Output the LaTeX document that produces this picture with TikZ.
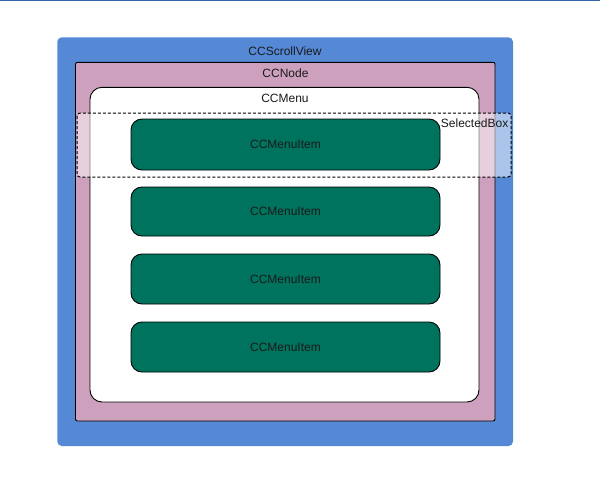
\documentclass[tikz,border=0pt]{standalone}
\usepackage{fontspec}
\setmainfont{Liberation Sans}
\definecolor{scrollblue}{HTML}{5589D6}
\definecolor{nodepink}{HTML}{CDA1BE}
\definecolor{itemgreen}{HTML}{00735E}
\definecolor{topline}{HTML}{3566A6}
\definecolor{txt}{HTML}{1A1A1A}
\begin{document}
\begin{tikzpicture}[x=1pt,y=-1pt,
  lbl/.style={font=\fontsize{12}{14}\selectfont, text=txt, inner sep=0pt},
  itembox/.style={draw=black, line width=0.9pt, fill=itemgreen, rounded corners=11pt},
]
\useasboundingbox (0,0) rectangle (600,501);
\fill[white] (0,0) rectangle (600,501);
\fill[topline] (0,0) rectangle (600,1.4);
% CCScrollView
\fill[scrollblue, rounded corners=4.5pt] (57.3,37.3) rectangle (513,446);
\node[lbl] (sv) at (285,51.7) {CCScrollView};
% CCNode
\draw[fill=nodepink, line width=0.9pt, rounded corners=2pt] (75.5,62.3) rectangle (495,421);
\node[lbl] (nd) at (285.5,73.5) {CCNode};
% CCMenu
\draw[fill=white, line width=0.9pt, rounded corners=12pt] (90,87.3) rectangle (479,402);
\node[lbl] (mn) at (285,98.3) {CCMenu};
% SelectedBox
\fill[white, fill opacity=0.5, rounded corners=3pt] (77,113) rectangle (511,177);
\draw[black, dash pattern=on 3pt off 2pt, line width=1pt, rounded corners=3pt] (77,113) rectangle (511,177);
\node[lbl, anchor=east] (sb) at (508.5,123) {SelectedBox};
% Items
\foreach \t/\b/\n in {119/170/a, 187/236/b, 254/304/c, 322/372/d}{
  \draw[itembox] (131,\t) rectangle (440,\b);
  \node[lbl] (item\n) at (285.5,{(\t+\b)/2}) {CCMenuItem};
}
\end{tikzpicture}
\end{document}
